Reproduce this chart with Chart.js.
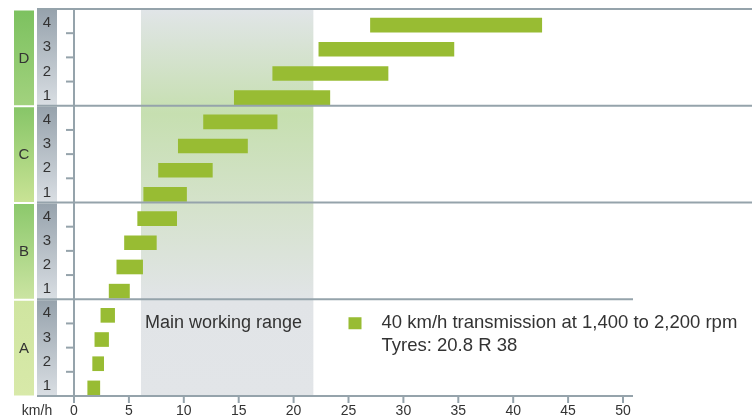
<!DOCTYPE html>
<html><head><meta charset="utf-8">
<script src="https://cdn.jsdelivr.net/npm/chart.js@4/dist/chart.umd.min.js"></script>
<style>html,body{margin:0;padding:0;background:#fff;}</style>
</head><body>
<canvas id="c" width="755" height="420"></canvas>
<script>
// ---- data ----
const ranges = ['A', 'B', 'C', 'D'];
const gears = [1, 2, 3, 4];
const categories = ['A1','A2','A3','A4','B1','B2','B3','B4','C1','C2','C3','C4','D1','D2','D3','D4'];
const speedFrom = [1.25, 1.7, 1.9, 2.45, 3.2, 3.9, 4.6, 5.8, 6.35, 7.7, 9.5, 11.8, 14.6, 18.1, 22.3, 27.0];
const speedTo   = [2.35, 2.7, 3.15, 3.7, 5.05, 6.25, 7.5, 9.35, 10.25, 12.6, 15.8, 18.5, 23.3, 28.6, 34.6, 42.6];
const xMin = 0, xMax = 50, xStep = 5;
const workingRange = [6.1, 21.8];
const axisUnit = 'km/h';
const rangeLabel = 'Main working range';
const legendLines = ['40 km/h transmission at 1,400 to 2,200 rpm', 'Tyres: 20.8 R 38'];

// ---- styles ----
const FONT = '"Liberation Sans", Arial, Helvetica, sans-serif';
const BAR = '#98bc33';
const LINE = '#95a3ab';
const TXT = '#333333';
const SHIFT = 4; // frame drawn slightly above the bar rows
const greenCols = [['#cfe5a0','#d8e9a9'], ['#8bc86b','#cbe4a2'], ['#86c567','#c9e395'], ['#7cc15f','#a2d27e']];

const deco = {
  id: 'deco',
  beforeDatasetsDraw(chart) {
    const {ctx, chartArea: a, scales: {x}} = chart;
    const top = a.top - SHIFT, bot = a.bottom - SHIFT;
    const x0 = x.getPixelForValue(workingRange[0]), x1 = x.getPixelForValue(workingRange[1]);
    const g = ctx.createLinearGradient(0, top, 0, bot);
    g.addColorStop(0, '#e1e5e8');
    g.addColorStop(0.27, '#c6dfb0');
    g.addColorStop(0.5, '#d4e2ca');
    g.addColorStop(0.75, '#e1e4e7');
    g.addColorStop(1, '#e2e5e8');
    ctx.save();
    ctx.fillStyle = g;
    ctx.fillRect(x0, top, x1 - x0, bot - top);
    ctx.restore();
  },
  afterDatasetsDraw(chart) {
    const {ctx, chartArea: a, scales: {x, y}} = chart;
    const rowH = Math.abs(y.getPixelForValue(1) - y.getPixelForValue(0));
    const xz = x.getPixelForValue(0);
    const xe = x.getPixelForValue(xMax) + 10;
    const bottom = a.bottom - SHIFT;
    ctx.save();
    ranges.forEach((r, s) => {
      const top = y.getPixelForValue(4 * s + 3) - rowH / 2 - SHIFT;
      const bot = y.getPixelForValue(4 * s) + rowH / 2 - SHIFT;
      const gg = ctx.createLinearGradient(0, top, 0, bot);
      gg.addColorStop(0, greenCols[s][0]); gg.addColorStop(1, greenCols[s][1]);
      ctx.fillStyle = gg;
      ctx.fillRect(14, top + 1.5, 20, bot - top - 2);
      const gr = ctx.createLinearGradient(0, top, 0, bot);
      gr.addColorStop(0, '#96a2ac'); gr.addColorStop(1, '#d9dee3');
      ctx.fillStyle = gr;
      ctx.fillRect(37, top + 1, 20, bot - top - 1);
      ctx.fillStyle = TXT;
      ctx.font = '15px ' + FONT;
      ctx.textAlign = 'center'; ctx.textBaseline = 'middle';
      ctx.fillText(r, 24, (top + bot) / 2 + 1);
      gears.forEach((gNum, k) => {
        const py = y.getPixelForValue(4 * s + k) - 2;
        ctx.fillText(String(gNum), 47, py);
      });
      ctx.strokeStyle = LINE; ctx.lineWidth = 2;
      for (let k = 1; k < 4; k++) {
        const by = (y.getPixelForValue(4 * s + k) + y.getPixelForValue(4 * s + k - 1)) / 2 - SHIFT;
        ctx.beginPath(); ctx.moveTo(xz - 8, by); ctx.lineTo(xz, by); ctx.stroke();
      }
    });
    ctx.strokeStyle = LINE; ctx.lineWidth = 2;
    ranges.forEach((r, s) => {
      const top = y.getPixelForValue(4 * s + 3) - rowH / 2 - SHIFT;
      const end = s === 0 ? xe : 752;
      ctx.beginPath(); ctx.moveTo(37, top); ctx.lineTo(end, top); ctx.stroke();
    });
    // x axis line and ticks
    ctx.beginPath(); ctx.moveTo(37, bottom); ctx.lineTo(xe, bottom); ctx.stroke();
    x.ticks.forEach(t => {
      const px = x.getPixelForValue(t.value);
      ctx.beginPath(); ctx.moveTo(px, bottom); ctx.lineTo(px, bottom + 7); ctx.stroke();
    });
    // y axis line
    ctx.beginPath(); ctx.moveTo(xz, a.top - SHIFT); ctx.lineTo(xz, bottom); ctx.stroke();
    // texts
    const aTop = y.getPixelForValue(3) - rowH / 2 - SHIFT;
    ctx.fillStyle = TXT;
    ctx.font = '18px ' + FONT;
    ctx.textAlign = 'left'; ctx.textBaseline = 'middle';
    ctx.fillText(rangeLabel, x.getPixelForValue(workingRange[0]) + 4, aTop + 24);
    const lx = x.getPixelForValue(25);
    ctx.fillStyle = BAR;
    ctx.fillRect(lx, aTop + 18, 13, 12);
    ctx.fillStyle = TXT;
    ctx.font = '18.5px ' + FONT;
    ctx.fillText(legendLines[0], lx + 33, aTop + 24);
    ctx.fillText(legendLines[1], lx + 33, aTop + 47);
    ctx.font = '14px ' + FONT;
    ctx.textAlign = 'center';
    ctx.fillText(axisUnit, 37, bottom + 15);
    ctx.restore();
  }
};

new Chart(document.getElementById('c'), {
  type: 'bar',
  data: {
    labels: categories,
    datasets: [{
      data: speedFrom.map((v, i) => [v, speedTo[i]]),
      backgroundColor: BAR,
      borderWidth: 0,
      barThickness: 14
    }]
  },
  options: {
    indexAxis: 'y',
    responsive: false,
    animation: false,
    devicePixelRatio: 1,
    layout: { padding: { left: 74, right: 132, top: 9 + SHIFT, bottom: -2 } },
    scales: {
      x: {
        type: 'linear', min: xMin, max: xMax,
        ticks: { stepSize: xStep, color: TXT, padding: 4, font: { family: FONT, size: 14, lineHeight: 1 } },
        grid: { display: false, drawTicks: false },
        border: { display: false }
      },
      y: { type: 'category', reverse: true, display: false, offset: true }
    },
    plugins: { legend: { display: false }, tooltip: { enabled: false } }
  },
  plugins: [deco]
});
</script>
</body></html>
